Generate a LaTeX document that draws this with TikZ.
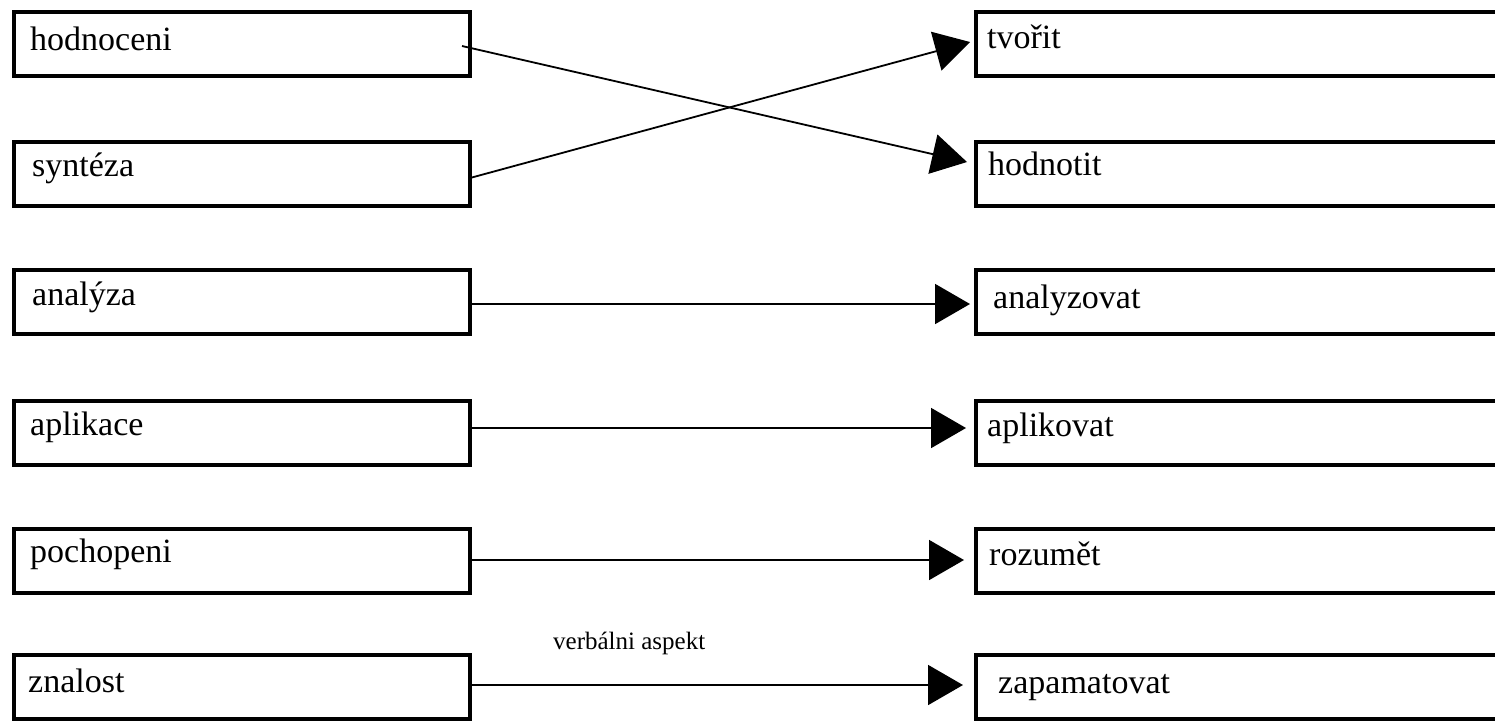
\documentclass[tikz,border=0pt]{standalone}
\usepackage{fontspec}
\setmainfont{Liberation Serif}
\usetikzlibrary{arrows.meta}
\begin{document}
\begin{tikzpicture}[x=1pt,y=-1pt,
  box/.style={draw=black,line width=4pt,rectangle,minimum width=456pt,minimum height=64pt,anchor=north west,inner sep=0pt},
  rbox/.style={draw=black,line width=4pt,rectangle,minimum width=600pt,minimum height=64pt,anchor=north west,inner sep=0pt},
  lbl/.style={anchor=base west,inner sep=0pt,font=\fontsize{34}{40}\selectfont},
  conn/.style={draw=black,line width=1.8pt,-{Triangle[length=35pt,width=40pt]}}]
\useasboundingbox (0,0) rectangle (1495,721);
\fill[white] (0,0) rectangle (1495,721);
% left boxes
\node[box] (l1) at (12,10) {};
\node[box] (l2) at (12,140) {};
\node[box] (l3) at (12,268) {};
\node[box] (l4) at (12,399) {};
\node[box] (l5) at (12,527) {};
\node[box] (l6) at (12,653) {};
% right boxes
\node[rbox] (r1) at (974,10) {};
\node[rbox] (r2) at (974,140) {};
\node[rbox] (r3) at (974,268) {};
\node[rbox] (r4) at (974,399) {};
\node[rbox] (r5) at (974,527) {};
\node[rbox] (r6) at (974,653) {};
% texts
\node[lbl] (tl1) at (30,50) {hodnoceni};
\node[lbl] (tl2) at (32,176) {syntéza};
\node[lbl] (tl3) at (32,305) {analýza};
\node[lbl] (tl4) at (30,435) {aplikace};
\node[lbl] (tl5) at (30,562) {pochopeni};
\node[lbl] (tl6) at (28,692) {znalost};
\node[lbl] (tr1) at (987,48) {tvořit};
\node[lbl] (tr2) at (988,175) {hodnotit};
\node[lbl] (tr3) at (993,308) {analyzovat};
\node[lbl] (tr4) at (987,436) {aplikovat};
\node[lbl] (tr5) at (989,565) {rozumět};
\node[lbl] (tr6) at (998,693) {zapamatovat};
\node[anchor=base west,inner sep=0pt,font=\fontsize{25}{30}\selectfont] (va) at (553,649) {verbálni aspekt};
% connectors
\draw[conn] ([xshift=-10pt,yshift=-2pt]l1.east) -- ([xshift=-7pt,yshift=12pt]r2.west);
\draw[conn] ([xshift=-2pt,yshift=-4pt]l2.east) -- ([xshift=-4pt,yshift=2pt]r1.west);
\draw[conn] ([yshift=-2pt]l3.east) -- ([xshift=-4pt,yshift=-2pt]r3.west);
\draw[conn] ([yshift=5pt]l4.east) -- ([xshift=-8pt,yshift=5pt]r4.west);
\draw[conn] ([yshift=1pt]l5.east) -- ([xshift=-10pt,yshift=1pt]r5.west);
\draw[conn] ([yshift=2pt]l6.east) -- ([xshift=-11pt,yshift=2pt]r6.west);
\end{tikzpicture}
\end{document}
